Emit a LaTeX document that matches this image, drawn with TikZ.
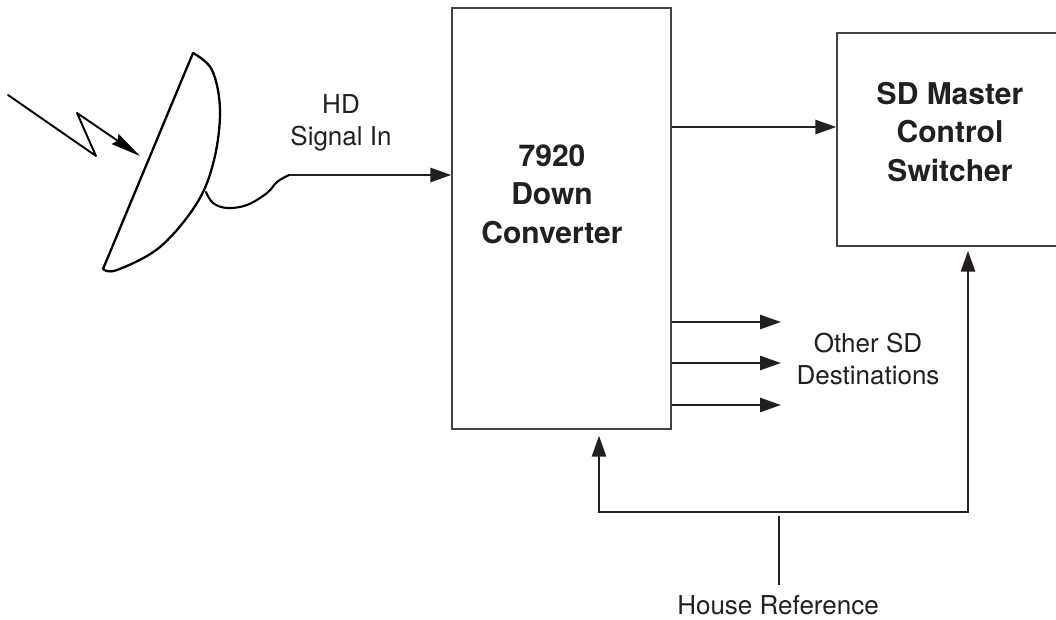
\documentclass[tikz,border=0pt]{standalone}
\usepackage{fontspec}
\setmainfont{TeX Gyre Heros}
\usetikzlibrary{arrows.meta,calc}
\definecolor{ink}{HTML}{231F20}
\begin{document}
\begin{tikzpicture}[x=1pt,y=-1pt,
  box/.style={draw=ink!85, line width=1.3pt, inner sep=0pt},
  boldtxt/.style={font=\fontsize{30}{38.5}\selectfont\bfseries, align=center, text=ink, inner sep=0pt},
  regtxt/.style={font=\fontsize{26}{32}\selectfont, align=center, text=ink, inner sep=0pt},
  sig/.style={draw=ink, line width=2.7pt, -{Triangle[length=21pt,width=14pt]}},
  wire/.style={draw=ink, line width=2.7pt},
  dish/.style={draw=black, line width=2.3pt, line join=round, line cap=round}
]
\useasboundingbox (0,0) rectangle (1056,620);

% boxes
\node[box, minimum width=219pt, minimum height=421pt] (conv) at (561.5,218.5) {};
\node[boldtxt] (convlabel) at (552,194) {7920\\Down\\Converter};
\node[box, minimum width=226pt, minimum height=213pt] (sd) at (950,139.5) {};
\node[boldtxt] (sdlabel) at (950,132) {SD Master\\Control\\Switcher};

% dish
\draw[dish] plot[smooth, tension=0.6] coordinates {(193,53) (212,70) (220,110) (214,160) (197,203) (160,247) (117,270) (103,269)} -- cycle;
% cable
\coordinate (hdstart) at (289,175);
\draw[dish, line width=2.1pt] plot[smooth, tension=0.6] coordinates {(206,192) (213,203) (227,208) (247,205) (267,193) (277,182) (289,175)};
% lightning
\coordinate (l0) at (8,95);
\coordinate (l1) at (96,156);
\coordinate (l2) at (77,113);
\coordinate (l3) at (140,156);
\draw[dish, line width=1.9pt, -{Stealth[length=30pt,width=12pt,inset=3pt]}] (l0) -- (l1) -- (l2) -- (l3);

% HD signal in
\node[regtxt] (hdlabel) at (341,123) {HD\\Signal In};
\draw[sig] (hdstart) -- (hdstart -| conv.west);

% to SD master
\coordinate (o1) at ([yshift=91.5pt]conv.east);
\draw[sig] (o1) -- (o1 -| sd.west);

% other SD destinations
\coordinate (d1) at (781,322);
\coordinate (d2) at (781,363);
\coordinate (d3) at (781,405);
\draw[sig] (d1 -| conv.east) -- (d1);
\draw[sig] (d2 -| conv.east) -- (d2);
\draw[sig] (d3 -| conv.east) -- (d3);
\node[regtxt] (otherlabel) at (868,359) {Other SD\\Destinations};

% reference bus
\coordinate (busL) at (599,512);
\coordinate (busR) at (968,512);
\coordinate (convin) at ($(busL |- conv.south)+(0,6)$);
\coordinate (sdin) at ($(busR |- sd.south)+(0,4)$);
\draw[wire, line join=miter, {Triangle[length=21pt,width=14pt]}-{Triangle[length=21pt,width=14pt]}] (convin) -- (busL) -- (busR) -- (sdin);

% house reference
\node[regtxt] (house) at (778,605) {House Reference};
\coordinate (hr) at (779,516);
\draw[wire] (hr) -- (hr |- 0,585);
\end{tikzpicture}
\end{document}
